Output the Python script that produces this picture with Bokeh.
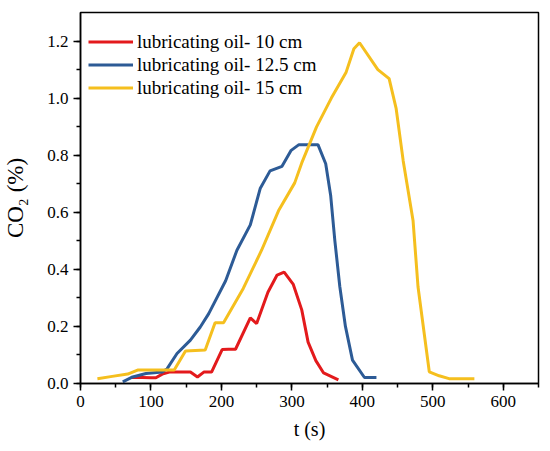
from bokeh.plotting import figure
from bokeh.models import Range1d, SingleIntervalTicker, Legend, LegendItem, NumeralTickFormatter
from bokeh.embed import file_html
from bokeh.resources import INLINE

red_x = [72, 88, 100, 107, 116, 126, 140, 156, 166, 175, 186, 201, 210, 220, 241, 250, 266, 279, 289, 302, 314, 323, 334, 345, 366]
red_y = [0.021, 0.021, 0.02, 0.02, 0.033, 0.04, 0.04, 0.04, 0.023, 0.04, 0.04, 0.119, 0.12, 0.12, 0.23, 0.21, 0.32, 0.38, 0.39, 0.347, 0.258, 0.145, 0.08, 0.037, 0.013]

blue_x = [60, 74, 93, 116, 123, 137, 156, 170, 182, 206, 222, 241, 255, 269, 286, 299, 310, 337, 348, 355, 361, 368, 376, 386, 403, 420]
blue_y = [0.006, 0.023, 0.035, 0.04, 0.052, 0.105, 0.152, 0.198, 0.245, 0.36, 0.467, 0.556, 0.683, 0.745, 0.761, 0.817, 0.837, 0.837, 0.77, 0.66, 0.50, 0.34, 0.20, 0.082, 0.021, 0.021]

yel_x = [24, 45, 67, 81, 100, 133, 149, 177, 191, 203, 231, 257, 281, 304, 314, 335, 356, 377, 388, 396, 422, 438, 448, 458, 472, 479, 495, 509, 523, 559]
yel_y = [0.017, 0.025, 0.033, 0.047, 0.047, 0.047, 0.114, 0.117, 0.213, 0.213, 0.333, 0.467, 0.605, 0.703, 0.773, 0.899, 1.0, 1.091, 1.173, 1.194, 1.10, 1.068, 0.963, 0.78, 0.57, 0.339, 0.041, 0.027, 0.017, 0.017]

labels = ["lubricating oil- 10 cm", "lubricating oil- 12.5 cm", "lubricating oil- 15 cm"]
colors = ["#e31a1c", "#2d5b96", "#f5bf1e"]

FONT = "Liberation Serif"

p = figure(width=550, height=451, output_backend="svg", toolbar_location=None,
           x_range=Range1d(0, 650), y_range=Range1d(0, 1.3),
           min_border_left=78, min_border_right=12, min_border_top=12, min_border_bottom=68)
p.background_fill_color = "white"
p.border_fill_color = "white"
p.outline_line_color = "black"
p.outline_line_width = 1.5
p.xgrid.visible = False
p.ygrid.visible = False

r1 = p.line(red_x, red_y, line_color=colors[0], line_width=3)
r2 = p.line(blue_x, blue_y, line_color=colors[1], line_width=3)
r3 = p.line(yel_x, yel_y, line_color=colors[2], line_width=3)

p.xaxis.ticker = SingleIntervalTicker(interval=100, num_minor_ticks=2)
p.yaxis.ticker = SingleIntervalTicker(interval=0.2, num_minor_ticks=2)
p.yaxis.formatter = NumeralTickFormatter(format="0.0")

for ax in (p.xaxis[0], p.yaxis[0]):
    ax.axis_line_color = "black"
    ax.axis_line_width = 1.5
    ax.major_tick_line_color = "black"
    ax.major_tick_line_width = 1.5
    ax.minor_tick_line_color = "black"
    ax.minor_tick_line_width = 1.5
    ax.major_tick_out = 7
    ax.major_tick_in = 0
    ax.minor_tick_out = 4
    ax.minor_tick_in = 0
    ax.major_label_text_font = FONT
    ax.major_label_text_font_size = "17px"
    ax.major_label_text_color = "black"
    ax.axis_label_text_font = FONT
    ax.axis_label_text_font_style = "normal"
    ax.axis_label_text_color = "black"

p.xaxis.axis_label_text_font_size = "20px"
p.yaxis.axis_label_text_font_size = "23px"
p.xaxis.axis_label = "t (s)"
p.yaxis.axis_label = "CO₂ (%)"
p.xaxis.major_label_standoff = 5
p.xaxis.axis_label_standoff = 8
p.yaxis.major_label_standoff = 5
p.yaxis.axis_label_standoff = 16

legend = Legend(items=[LegendItem(label=labels[0], renderers=[r1]),
                       LegendItem(label=labels[1], renderers=[r2]),
                       LegendItem(label=labels[2], renderers=[r3])],
                location=(8, 284), orientation="vertical")
legend.padding = 0
legend.margin = 0
legend.spacing = 0
legend.glyph_width = 45
legend.glyph_height = 23
legend.label_height = 23
legend.label_standoff = 4
legend.label_text_font = FONT
legend.label_text_font_size = "19px"
legend.label_text_color = "black"
legend.border_line_color = None
legend.background_fill_alpha = 0
p.add_layout(legend)

open("out.html", "w").write(file_html(p, INLINE))
